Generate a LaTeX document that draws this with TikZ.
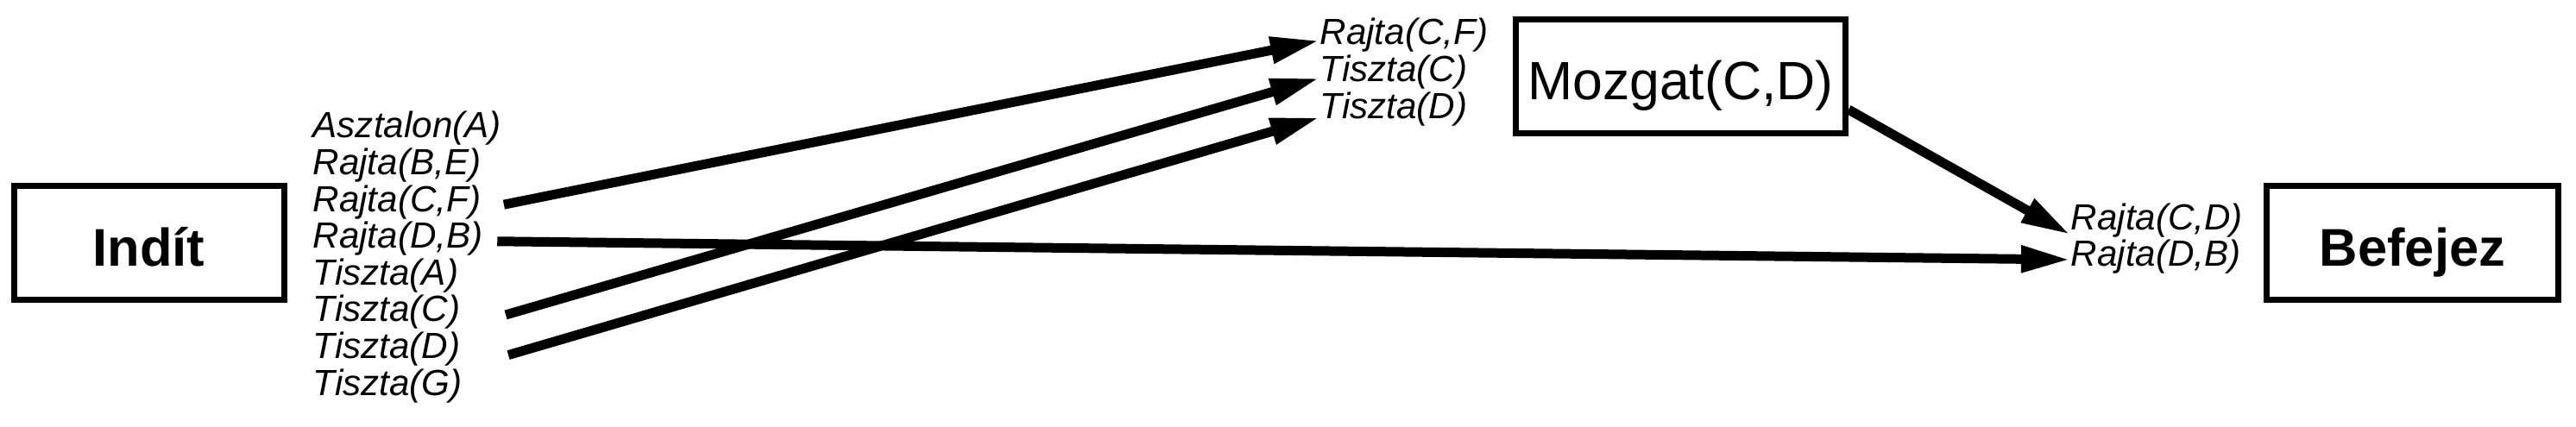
\documentclass[tikz,border=0pt]{standalone}
\usepackage{fontspec}
\setmainfont{Liberation Sans}
\usetikzlibrary{arrows.meta}
\tikzset{
  flowarrow/.style={-{Triangle[length=5.7mm, width=2.9mm]}, line width=1.1mm},
  actbox/.style={draw, line width=0.7mm, minimum height=1.32cm, text height=5.5mm, text depth=0mm, inner sep=0pt, font=\fontsize{17.5}{20}\selectfont\bfseries},
  condlabel/.style={inner sep=0pt, text height=2.8mm, text depth=1.2mm, anchor=base west, font=\fontsize{12}{14}\selectfont\itshape}
}

\begin{document}
\begin{tikzpicture}
  \useasboundingbox (0,0) rectangle (29.85,4.95);
  % actions
  \node[actbox, minimum width=3.13cm] (indit) at (1.725,2.135) {Indít};
  \node[actbox, minimum width=3.82cm, font=\fontsize{17.8}{20}\selectfont] (mozgat) at (19.475,4.065) {Mozgat(C,D)};
  \node[actbox, minimum width=3.38cm] (befejez) at (27.955,2.135) {Befejez};
  % effects of Indit
  \node[condlabel] (e1) at (3.62,3.35) {Asztalon(A)};
  \node[condlabel] (e2) at (3.62,2.924) {Rajta(B,E)};
  \node[condlabel] (e3) at (3.62,2.498) {Rajta(C,F)};
  \node[condlabel] (e4) at (3.62,2.072) {Rajta(D,B)};
  \node[condlabel] (e5) at (3.62,1.646) {Tiszta(A)};
  \node[condlabel] (e6) at (3.62,1.22) {Tiszta(C)};
  \node[condlabel] (e7) at (3.62,0.794) {Tiszta(D)};
  \node[condlabel] (e8) at (3.62,0.368) {Tiszta(G)};
  % preconditions of Mozgat
  \node[condlabel] (m1) at (15.29,4.43) {Rajta(C,F)};
  \node[condlabel] (m2) at (15.29,4.004) {Tiszta(C)};
  \node[condlabel] (m3) at (15.29,3.578) {Tiszta(D)};
  % preconditions of Befejez
  \node[condlabel] (b1) at (23.99,2.28) {Rajta(C,D)};
  \node[condlabel] (b2) at (23.99,1.86) {Rajta(D,B)};
  % causal links
  \draw[flowarrow] ([xshift=2.6mm]e3.east) -- ([yshift=-0.3mm]m1.west);
  \draw[flowarrow] ([xshift=5.2mm]e6.east) -- ([yshift=-0.4mm]m2.west);
  \draw[flowarrow] ([xshift=5.5mm, yshift=-0.4mm]e7.east) -- ([yshift=-0.7mm]m3.west);
  \draw[flowarrow] ([xshift=1.6mm]e4.east) -- (b2.west);
  \draw[flowarrow] ([yshift=-3.85mm]mozgat.east) -- ([yshift=-1.3mm]b1.west);
\end{tikzpicture}
\end{document}
